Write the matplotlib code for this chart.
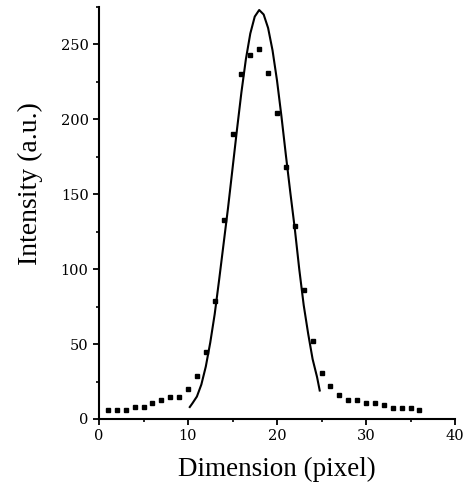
import matplotlib
matplotlib.use("Agg")
import matplotlib.pyplot as plt
from matplotlib.ticker import MultipleLocator

# measured data points (squares)
dim_px = list(range(1, 37))
intensity = [6, 6, 6, 8, 8, 11, 13, 15, 15, 20, 29, 45, 79, 133, 190, 230, 243, 247,
             231, 204, 168, 129, 86, 52, 31, 22, 16, 13, 13, 11, 11, 9.5, 7.5, 7.5, 7.5, 6]

# fitted curve
fit_x = [10.2, 10.5, 11.0, 11.5, 12.0, 12.5, 13.0, 13.5, 14.0, 14.5, 15.0, 15.5, 16.0,
         16.5, 17.0, 17.5, 18.0, 18.5, 19.0, 19.5, 20.0, 20.5, 21.0, 21.5, 22.0, 22.5,
         23.0, 23.5, 24.0, 24.5, 24.8]
fit_y = [8, 10.5, 15, 23, 35, 51, 70, 93, 117, 141, 167, 193, 218,
         240, 257.3, 268.6, 273, 270, 261, 246, 226, 202, 176, 151, 127, 100,
         76, 57, 40, 28, 19]

fig = plt.figure(figsize=(4.74, 4.88), dpi=100)
ax = fig.add_axes([99/474, 1-419/488, (455-99)/474, (419-7)/488])

ax.plot(fit_x, fit_y, color="black", lw=1.5)
ax.plot(dim_px, intensity, linestyle="none", marker="s", ms=3.4, color="black")

ax.set_xlim(0, 40)
ax.set_ylim(0, 275)
ax.xaxis.set_major_locator(MultipleLocator(10))
ax.xaxis.set_minor_locator(MultipleLocator(5))
ax.yaxis.set_major_locator(MultipleLocator(50))
ax.yaxis.set_minor_locator(MultipleLocator(25))

for s in ["top", "right"]:
    ax.spines[s].set_visible(False)
for s in ["left", "bottom"]:
    ax.spines[s].set_linewidth(1.5)

ax.tick_params(which="major", direction="out", length=4.5, width=1.3, pad=3,
               labelsize=10.5)
ax.tick_params(which="minor", direction="out", length=2.5, width=1.2)
for lab in ax.get_xticklabels() + ax.get_yticklabels():
    lab.set_family("DejaVu Serif")

fig.text(30/474, 1-184/488, "Intensity (a.u.)", rotation=90, ha="center", va="center",
         family="Liberation Serif", fontsize=20)
fig.text(277/474, 1-469/488, "Dimension (pixel)", ha="center", va="center",
         family="Liberation Serif", fontsize=19.5)

fig.savefig("out.png", dpi=100)
